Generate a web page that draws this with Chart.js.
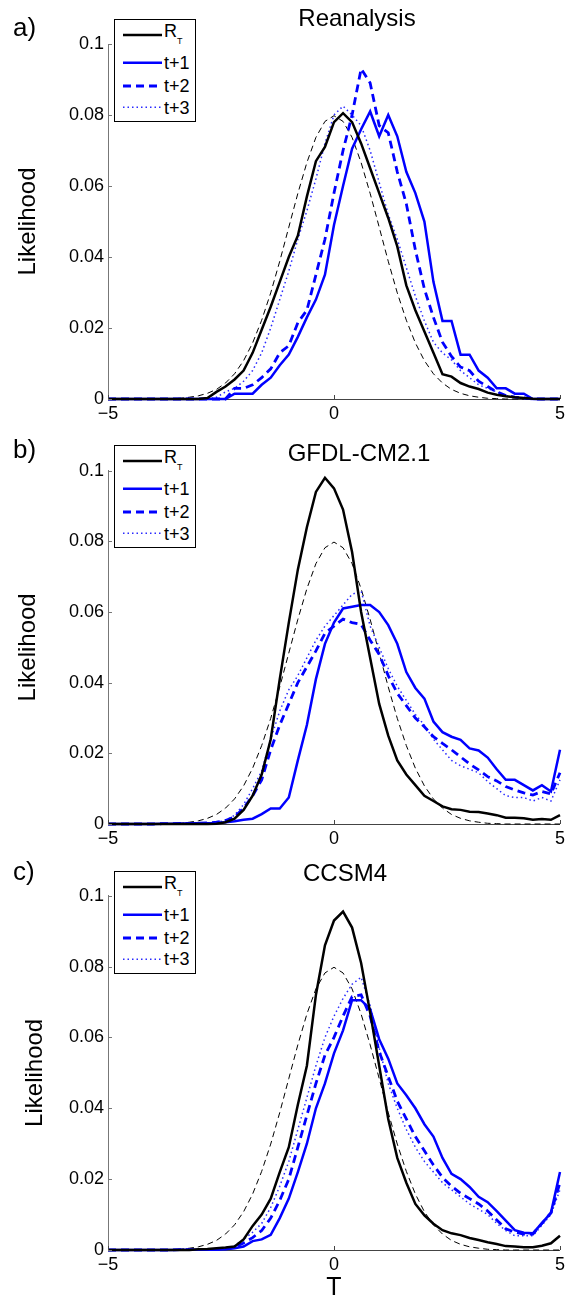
<!DOCTYPE html>
<html><head><meta charset="utf-8">
<script src="https://cdn.jsdelivr.net/npm/chart.js@4.4.1/dist/chart.umd.min.js"></script>
<style>
html,body{margin:0;padding:0;background:#fff;overflow:hidden;}
body{width:569px;height:1303px;position:relative;font-family:'Liberation Sans',Arial,sans-serif;color:#000;}
canvas{position:absolute;left:0;}
.ttl{position:absolute;font-size:24px;line-height:24px;white-space:nowrap;transform:translateX(-50%);}
.plab{position:absolute;left:13px;font-size:26px;line-height:26px;white-space:nowrap;}
.leg{position:absolute;left:114px;width:80px;height:101px;border:1px solid #000;background:#fff;}
.leg svg{position:absolute;left:0;top:0;}
.leg .lt{position:absolute;left:49px;font-size:18px;line-height:18px;white-space:nowrap;}
.leg .sub{position:absolute;left:62px;font-size:9px;line-height:9px;}
</style></head><body>
<canvas id="cA" width="569" height="430" style="top:0px"></canvas>
<canvas id="cB" width="569" height="430" style="top:430px"></canvas>
<canvas id="cC" width="569" height="443" style="top:860px"></canvas>
<script>
// ---------- data ----------
const tValues = [
 -5,-4.8,-4.6,-4.4,-4.2,-4,-3.8,-3.6,-3.4,-3.2,
 -3,-2.8,-2.6,-2.4,-2.2,-2,-1.8,-1.6,-1.4,-1.2,
 -1,-0.8,-0.6,-0.4,-0.2,0,0.2,0.4,0.6,0.8,
 1,1.2,1.4,1.6,1.8,2,2.2,2.4,2.6,2.8,
 3,3.2,3.4,3.6,3.8,4,4.2,4.4,4.6,4.8,
 5];
const xTickValues = [-5, 0, 5];
const xTickLabels = ['\u22125', '0', '5'];
const yTickValues = [0, 0.02, 0.04, 0.06, 0.08, 0.1];
const yTickLabels = ['0', '0.02', '0.04', '0.06', '0.08', '0.1'];
const panelLetters = ['a)', 'b)', 'c)'];
const panelTitles = ['Reanalysis', 'GFDL-CM2.1', 'CCSM4'];
const legendLabels = ['R', 't+1', 't+2', 't+3'];
const legendSub = 'T';
const yAxisTitle = 'Likelihood';
const xAxisTitle = 'T';

const gaussRef = [
 0,0,0,0,0,0,0,0.0001,0.0002,0.0005,
 0.0009,0.0016,0.0027,0.0045,0.0071,0.0108,0.0158,0.0222,0.0299,0.0388,
 0.0484,0.0579,0.0666,0.0737,0.0782,0.0798,0.0782,0.0737,0.0666,0.0579,
 0.0484,0.0388,0.0299,0.0222,0.0158,0.0108,0.0071,0.0045,0.0027,0.0016,
 0.0009,0.0005,0.0002,0.0001,0,0,0,0,0,0,
 0];

const reanalysisRT = [
 0,0,0,0,0,0,0,0,0,0,
 0,0.0003,0.002,0.0035,0.0055,0.008,0.013,0.0195,0.026,0.033,
 0.040,0.046,0.057,0.067,0.071,0.078,0.0805,0.078,0.072,0.065,
 0.058,0.051,0.043,0.032,0.025,0.019,0.013,0.007,0.0063,0.0045,
 0.0035,0.0028,0.0018,0.0012,0.0008,0.0005,0.0003,0.0001,0,0,
 0];
const reanalysisT1 = [
 0,0,0,0,0,0,0,0,0,0,
 0,0,0,0,0.0015,0.0015,0.0015,0.004,0.006,0.0095,
 0.0125,0.0175,0.023,0.028,0.035,0.049,0.060,0.0705,0.076,0.081,
 0.074,0.080,0.074,0.064,0.058,0.050,0.033,0.022,0.022,0.0125,
 0.0125,0.008,0.006,0.003,0.003,0.0015,0.0015,0,0,0,
 0];
const reanalysisT2 = [
 0,0,0,0,0,0,0,0,0,0,
 0,0,0,0,0.003,0.003,0.004,0.006,0.0085,0.013,
 0.015,0.0215,0.025,0.035,0.045,0.058,0.070,0.080,0.093,0.089,
 0.077,0.075,0.064,0.055,0.042,0.031,0.023,0.016,0.012,0.009,
 0.008,0.005,0.0035,0.002,0.001,0.0005,0.0003,0,0,0,
 0];
const reanalysisT3 = [
 0,0,0,0,0,0,0,0,0,0,
 0,0,0.0005,0.002,0.003,0.005,0.008,0.013,0.020,0.028,
 0.036,0.045,0.053,0.062,0.072,0.080,0.0825,0.080,0.077,0.070,
 0.061,0.052,0.045,0.037,0.029,0.022,0.016,0.013,0.011,0.008,
 0.006,0.004,0.003,0.002,0.001,0.0005,0,0,0,0,
 0];

const gfdlRT = [
 0,0,0,0,0,0,0,0,0,0,
 0,0,0.0001,0.0005,0.0015,0.004,0.008,0.014,0.024,0.041,
 0.057,0.072,0.084,0.094,0.098,0.095,0.089,0.077,0.060,0.047,
 0.034,0.025,0.018,0.014,0.011,0.008,0.0065,0.005,0.0042,0.004,
 0.0035,0.0034,0.003,0.0025,0.0018,0.0018,0.0016,0.0012,0.0014,0.0012,
 0.0025];
const gfdlT1 = [
 0,0,0,0,0,0,0.0001,0.0001,0.0001,0.0002,
 0.0002,0.0002,0.0003,0.0005,0.0008,0.0012,0.0015,0.0028,0.0044,0.0044,
 0.0075,0.018,0.028,0.041,0.051,0.057,0.061,0.0615,0.062,0.062,
 0.060,0.0563,0.051,0.043,0.0385,0.0355,0.029,0.026,0.0247,0.0238,
 0.0214,0.0208,0.0188,0.0155,0.0125,0.0125,0.011,0.0095,0.011,0.0092,
 0.021];
const gfdlT2 = [
 0,0,0,0,0,0,0.0001,0.0001,0.0002,0.0002,
 0.0002,0.0003,0.0005,0.001,0.002,0.0045,0.008,0.0125,0.021,0.028,
 0.034,0.040,0.0445,0.049,0.054,0.056,0.058,0.057,0.0565,0.052,
 0.048,0.042,0.037,0.0335,0.030,0.0275,0.0247,0.0228,0.021,0.019,
 0.017,0.0153,0.0134,0.0122,0.0106,0.0096,0.0088,0.0082,0.0092,0.0085,
 0.0145];
const gfdlT3 = [
 0,0,0,0,0,0,0.0001,0.0001,0.0002,0.0002,
 0.0002,0.0003,0.0005,0.001,0.0025,0.0055,0.010,0.015,0.024,0.032,
 0.038,0.042,0.047,0.052,0.056,0.059,0.062,0.065,0.066,0.056,
 0.050,0.044,0.039,0.035,0.031,0.028,0.024,0.021,0.018,0.0165,
 0.0155,0.0145,0.012,0.010,0.008,0.0075,0.0075,0.0065,0.0075,0.0065,
 0.0125];

const ccsmRT = [
 0,0,0,0,0,0,0,0,0,0,
 0.0002,0.0003,0.0005,0.0007,0.001,0.003,0.0068,0.010,0.0145,0.022,
 0.029,0.041,0.052,0.072,0.086,0.093,0.0955,0.091,0.081,0.067,
 0.052,0.037,0.026,0.019,0.013,0.0098,0.0074,0.0056,0.0047,0.0042,
 0.0034,0.0028,0.0022,0.0017,0.0011,0.001,0.0008,0.0008,0.0012,0.0019,
 0.004];
const ccsmT1 = [
 0,0,0,0,0,0,0,0,0.0001,0.0001,
 0.0001,0.0001,0.0001,0.0002,0.0005,0.001,0.0025,0.003,0.0043,0.009,
 0.0145,0.022,0.030,0.040,0.047,0.0555,0.062,0.0705,0.0705,0.068,
 0.0595,0.054,0.047,0.0437,0.040,0.0355,0.032,0.026,0.0215,0.020,
 0.0178,0.015,0.0135,0.011,0.0083,0.0056,0.0049,0.0047,0.0076,0.0105,
 0.022];
const ccsmT2 = [
 0,0,0,0,0,0,0,0,0.0001,0.0001,
 0.0001,0.0001,0.0002,0.0003,0.0008,0.002,0.0035,0.0055,0.009,0.014,
 0.020,0.029,0.038,0.047,0.055,0.060,0.066,0.0715,0.072,0.066,
 0.056,0.049,0.042,0.037,0.032,0.028,0.024,0.0205,0.018,0.016,
 0.0145,0.013,0.011,0.0085,0.006,0.005,0.0045,0.0045,0.0075,0.0105,
 0.019];
const ccsmT3 = [
 0,0,0,0,0,0,0,0,0.0001,0.0001,
 0.0001,0.0002,0.0003,0.0006,0.0012,0.003,0.005,0.0075,0.012,0.018,
 0.025,0.034,0.043,0.052,0.060,0.066,0.071,0.075,0.077,0.069,
 0.057,0.047,0.040,0.034,0.029,0.025,0.022,0.019,0.017,0.015,
 0.013,0.0115,0.010,0.0075,0.0055,0.004,0.004,0.004,0.007,0.010,
 0.017];

// ---------- styles ----------
const FONT = "'Liberation Sans', Arial, Helvetica, sans-serif";
const styles = [
  {color:'#000000', width:2.5, dash:[]},          // R_T
  {color:'#0000ff', width:2.5, dash:[]},          // t+1
  {color:'#0000ff', width:2.8, dash:[8,5]},       // t+2
  {color:'#2a2aff', width:1.5, dash:[1.5,3]}      // t+3
];
const gaussStyle = {color:'#000000', width:1, dash:[6,4]};

const panels = [
  {canvas:'cA', padTop:44,   xAxisH:31, yTitlePad:13.6, showXTitle:false,
   legendTop:19, titleX:357, titleTop:6.4, letterTop:14.2,
   series:[reanalysisRT, reanalysisT1, reanalysisT2, reanalysisT3]},
  {canvas:'cB', padTop:40.7, xAxisH:36, yTitlePad:13.6, showXTitle:false,
   legendTop:445, titleX:359, titleTop:441.4, letterTop:435.8,
   series:[gfdlRT, gfdlT1, gfdlT2, gfdlT3]},
  {canvas:'cC', padTop:35.7, xAxisH:53, yTitlePad:21, showXTitle:true,
   legendTop:870.7, titleX:345, titleTop:861.4, letterTop:857.5,
   series:[ccsmRT, ccsmT1, ccsmT2, ccsmT3]}
];

const innerTicks = {
  id:'innerTicks',
  afterDraw(chart){
    const {ctx, chartArea:a, scales} = chart;
    const x = scales.x, y = scales.y;
    ctx.save();
    ctx.lineWidth = 1;
    ctx.strokeStyle = '#444';
    ctx.beginPath();
    x.ticks.forEach(t => {
      const px = Math.round(x.getPixelForValue(t.value)) + 0.5;
      ctx.moveTo(px, a.bottom); ctx.lineTo(px, a.bottom - 4);
    });
    ctx.stroke();
    ctx.strokeStyle = '#777';
    ctx.beginPath();
    y.ticks.forEach(t => {
      const py = Math.round(y.getPixelForValue(t.value)) + 0.5;
      ctx.moveTo(a.left, py); ctx.lineTo(a.left + 4, py);
    });
    ctx.stroke();
    ctx.restore();
  }
};

const toXY = arr => arr.map((v, i) => ({x: tValues[i], y: v}));

panels.forEach((p, pi) => {
  const datasets = p.series.map((s, si) => ({
    label: legendLabels[si],
    data: toXY(s),
    borderColor: styles[si].color,
    borderWidth: styles[si].width,
    borderDash: styles[si].dash,
    pointRadius: 0,
    fill: false,
    tension: 0,
    clip: false
  }));
  datasets.push({
    label: 'normal',
    data: toXY(gaussRef),
    borderColor: gaussStyle.color,
    borderWidth: gaussStyle.width,
    borderDash: gaussStyle.dash,
    pointRadius: 0,
    fill: false,
    tension: 0,
    clip: false
  });

  new Chart(document.getElementById(p.canvas), {
    type: 'line',
    data: {datasets},
    plugins: [innerTicks],
    options: {
      responsive: false,
      animation: false,
      devicePixelRatio: 1,
      layout: {padding: {top: p.padTop, left: 0, right: 7, bottom: 0}},
      plugins: {legend: {display: false}, tooltip: {enabled: false}, title: {display: false}},
      scales: {
        x: {
          type: 'linear', min: -5, max: 5,
          afterBuildTicks: s => { s.ticks = xTickValues.map(v => ({value: v})); },
          afterFit: s => { s.height = p.xAxisH; },
          grid: {display: true, drawOnChartArea: false, drawTicks: false},
          border: {display: true, color: '#444', width: 1},
          ticks: {color: '#000', font: {family: FONT, size: 18}, padding: 4,
                  maxRotation: 0, autoSkip: false,
                  callback: (v, i) => xTickLabels[i]},
          title: {display: p.showXTitle, text: xAxisTitle, color: '#000',
                  font: {family: FONT, size: 25}, padding: {top: 0, bottom: 0}}
        },
        y: {
          type: 'linear', min: 0, max: 0.1,
          afterBuildTicks: s => { s.ticks = yTickValues.map(v => ({value: v})); },
          afterFit: s => { s.width = 108; },
          grid: {display: true, drawOnChartArea: false, drawTicks: false},
          border: {display: true, color: '#777', width: 1},
          ticks: {color: '#000', font: {family: FONT, size: 18}, padding: 4,
                  callback: (v, i) => yTickLabels[i]},
          title: {display: true, text: yAxisTitle, color: '#000',
                  font: {family: FONT, size: 24}, padding: {top: p.yTitlePad, bottom: 0}}
        }
      }
    }
  });

  // panel letter
  const lt = document.createElement('div');
  lt.className = 'plab';
  lt.style.top = p.letterTop + 'px';
  lt.textContent = panelLetters[pi];
  document.body.appendChild(lt);

  // title
  const tt = document.createElement('div');
  tt.className = 'ttl';
  tt.style.left = p.titleX + 'px';
  tt.style.top = p.titleTop + 'px';
  tt.textContent = panelTitles[pi];
  document.body.appendChild(tt);

  // legend
  const lg = document.createElement('div');
  lg.className = 'leg';
  lg.style.top = p.legendTop + 'px';
  const rowsY = [15, 42.7, 66, 87.3];
  let svg = '<svg width="80" height="101" xmlns="http://www.w3.org/2000/svg">';
  rowsY.forEach((ry, k) => {
    const st = styles[k];
    svg += '<line x1="8" y1="' + ry + '" x2="47" y2="' + ry + '" stroke="' + st.color +
           '" stroke-width="' + st.width + '"' + (st.dash.length ? ' stroke-dasharray="' + st.dash.join(',') + '"' : '') + '/>';
  });
  svg += '</svg>';
  lg.innerHTML = svg;
  rowsY.forEach((ry, k) => {
    const s = document.createElement('span');
    s.className = 'lt';
    s.style.top = (k === 0 ? 2.2 : ry - 8.8) + 'px';
    s.textContent = legendLabels[k];
    lg.appendChild(s);
  });
  const sub = document.createElement('span');
  sub.className = 'sub';
  sub.style.top = '17.3px';
  sub.textContent = legendSub;
  lg.appendChild(sub);
  document.body.appendChild(lg);
});
</script>
</body></html>
